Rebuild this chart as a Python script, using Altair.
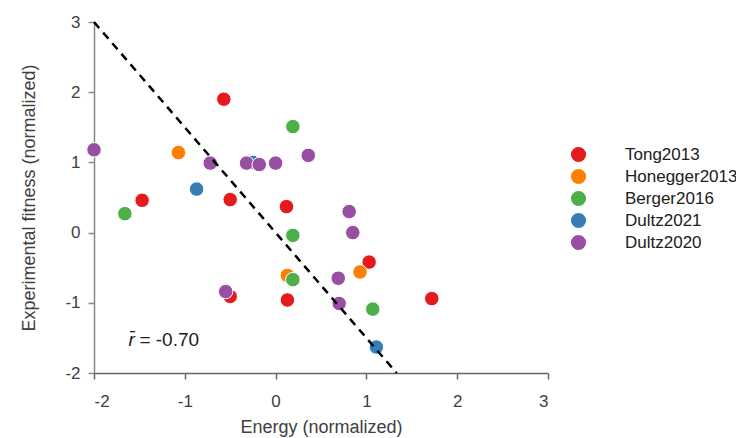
import altair as alt
import pandas as pd

studies = ["Tong2013", "Honegger2013", "Berger2016", "Dultz2021", "Dultz2020"]
colors = ["#e41a1c", "#ff7f00", "#4daf4a", "#377eb8", "#984ea3"]

tong_x = [-0.57, -1.47, -0.50, 0.12, -0.50, 0.13, 1.03, 1.72]
tong_y = [1.90, 0.46, 0.47, 0.37, -0.91, -0.96, -0.42, -0.94]
honegger_x = [-1.07, 0.13, 0.93]
honegger_y = [1.14, -0.61, -0.56]
berger_x = [0.19, -1.66, 0.19, 0.19, 1.07]
berger_y = [1.51, 0.27, -0.04, -0.67, -1.09]
dultz21_x = [-0.87, -0.25, 1.11]
dultz21_y = [0.62, 1.00, -1.63]
dultz20_x = [-2.00, -0.72, -0.32, -0.18, 0.00, 0.36, 0.81, 0.85, 0.69, -0.55, 0.70]
dultz20_y = [1.18, 0.99, 0.99, 0.97, 0.99, 1.10, 0.30, 0.00, -0.65, -0.84, -1.01]

fit_x = [-2.0, 1.333]
fit_y = [3.0, -2.0]

rows = []
for name, xs, ys in [
    ("Tong2013", tong_x, tong_y),
    ("Honegger2013", honegger_x, honegger_y),
    ("Berger2016", berger_x, berger_y),
    ("Dultz2021", dultz21_x, dultz21_y),
    ("Dultz2020", dultz20_x, dultz20_y),
]:
    for x, y in zip(xs, ys):
        rows.append({"study": name, "energy": x, "fitness": y, "idx": len(rows)})
df = pd.DataFrame(rows)
line_df = pd.DataFrame({"energy": fit_x, "fitness": fit_y})

FONT = "Liberation Sans"
xscale = alt.Scale(domain=[-2, 3], nice=False, zero=False)
yscale = alt.Scale(domain=[-2, 3], nice=False, zero=False)

xaxis = alt.Axis(values=[-2, -1, 0, 1, 2, 3], labelExpr="toString(datum.value)", title="Energy (normalized)", grid=False,
                 domainColor="#666666", tickColor="#666666", tickSize=6, domainWidth=1.5, tickWidth=1.5,
                 labelFont=FONT, labelFontSize=17, labelColor="#404040", labelPadding=14,
                 titleFont=FONT, titleFontSize=18, titleColor="#404040", titleFontWeight="normal",
                 titlePadding=9)
yaxis = alt.Axis(values=[-2, -1, 0, 1, 2, 3], labelExpr="toString(datum.value)", title="Experimental fitness (normalized)", grid=False,
                 domainColor="#888888", tickColor="#888888", tickSize=6, domainWidth=1.5, tickWidth=1.5,
                 labelFont=FONT, labelFontSize=17, labelColor="#404040", labelPadding=8,
                 titleFont=FONT, titleFontSize=18, titleColor="#404040", titleFontWeight="normal",
                 titlePadding=26)

points = alt.Chart(df).mark_circle(size=210, opacity=1, stroke="white", strokeWidth=1).encode(
    x=alt.X("energy:Q", scale=xscale, axis=xaxis),
    y=alt.Y("fitness:Q", scale=yscale, axis=yaxis),
    color=alt.Color("study:N", scale=alt.Scale(domain=studies, range=colors),
                    legend=alt.Legend(title=None, orient="none", legendX=476, legendY=124,
                                      symbolType="circle", symbolSize=230, symbolStrokeWidth=0,
                                      labelFont=FONT, labelFontSize=17, labelColor="#202020",
                                      labelOffset=38, rowPadding=4, padding=0)),
    order=alt.Order("idx:Q"),
)

line = alt.Chart(line_df).mark_line(color="black", strokeWidth=2.5, strokeDash=[8, 6]).encode(
    x=alt.X("energy:Q", scale=xscale),
    y=alt.Y("fitness:Q", scale=yscale),
)

ann_r = alt.Chart(pd.DataFrame({"energy": [-1.62], "fitness": [-1.62], "t": ["r\u0304"]})).mark_text(
    font=FONT, fontSize=19, fontStyle="italic", align="left", baseline="alphabetic", color="#202020"
).encode(x=alt.X("energy:Q", scale=xscale), y=alt.Y("fitness:Q", scale=yscale), text="t:N")

ann_v = alt.Chart(pd.DataFrame({"energy": [-1.50], "fitness": [-1.62], "t": ["= -0.70"]})).mark_text(
    font=FONT, fontSize=19, align="left", baseline="alphabetic", color="#202020"
).encode(x=alt.X("energy:Q", scale=xscale), y=alt.Y("fitness:Q", scale=yscale), text="t:N")

chart = alt.layer(points, line, ann_r, ann_v).properties(
    width=454, height=351,
    autosize=alt.AutoSizeParams(type="none"),
    padding={"left": 86, "top": 14, "right": 188, "bottom": 64},
).configure_view(stroke=None)

chart.save("out.html", embed_options={"renderer": "svg", "actions": False})
